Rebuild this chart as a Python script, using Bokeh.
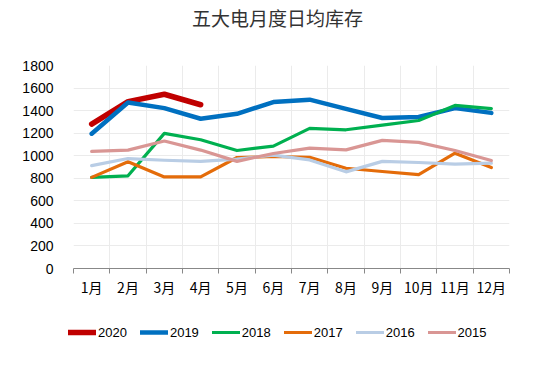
from bokeh.plotting import figure
from bokeh.models import FixedTicker, Legend, LegendItem, Label, Range1d
from bokeh.layouts import column
from bokeh.embed import file_html
from bokeh.resources import INLINE

title_text = "五大电月度日均库存"
months = ["1月", "2月", "3月", "4月", "5月", "6月", "7月", "8月", "9月", "10月", "11月", "12月"]
y_ticks = [0, 200, 400, 600, 800, 1000, 1200, 1400, 1600, 1800]

s2020 = [1280, 1480, 1545, 1452]
s2019 = [1195, 1472, 1422, 1328, 1372, 1476, 1497, 1415, 1334, 1343, 1422, 1380]
s2018 = [808, 822, 1198, 1142, 1046, 1085, 1242, 1230, 1272, 1312, 1446, 1418]
s2017 = [808, 946, 812, 812, 984, 993, 986, 889, 860, 833, 1022, 895]
s2016 = [912, 975, 960, 950, 970, 1005, 963, 857, 950, 940, 925, 934]
s2015 = [1038, 1050, 1130, 1050, 950, 1020, 1067, 1052, 1136, 1118, 1046, 957]

series = [
    ("2020", s2020, "#C00000", 5.5),
    ("2019", s2019, "#0070C0", 4.5),
    ("2018", s2018, "#00B050", 3.2),
    ("2017", s2017, "#E46C0A", 3.2),
    ("2016", s2016, "#B9CDE5", 3.2),
    ("2015", s2015, "#D99694", 3.2),
]

def strip(h):
    f = figure(width=540, height=h, output_backend="svg", toolbar_location=None,
               x_range=Range1d(0, 1), y_range=Range1d(0, 1),
               x_axis_location=None, y_axis_location=None, min_border=0)
    f.outline_line_color = None
    f.grid.visible = False
    return f

pt = strip(40)
pl = strip(45)

has_fa = "frame_align" in pt.properties()
if has_fa:
    pt.frame_align = False
    pl.frame_align = False
    title_x, legend_x = 277, 68
else:
    title_x, legend_x = 204, 0

# ---- title strip ----
pt.add_layout(Label(x=title_x, y=23, x_units="screen", y_units="screen", text=title_text,
                    text_align="center", text_baseline="middle",
                    text_font="Noto Sans CJK SC", text_font_size="19px",
                    text_color="#333333"))

# ---- main chart ----
p = figure(width=540, height=263, output_backend="svg", toolbar_location=None,
           x_range=(0.5, 12.5), y_range=(0, 1800))
p.min_border_left = 73
p.min_border_right = 31
p.min_border_top = 25
p.min_border_bottom = 35
p.outline_line_color = None

for name, vals, color, w in series:
    xs = list(range(1, len(vals) + 1))
    p.line(xs, vals, line_color=color, line_width=w, line_cap="round", line_join="round")

bounds = [i + 0.5 for i in range(0, 13)]
xa = p.xaxis[0]
xa.ticker = FixedTicker(ticks=list(range(1, 13)), minor_ticks=bounds)
xa.major_label_overrides = {i + 1: m for i, m in enumerate(months)}
xa.major_tick_line_color = None
xa.minor_tick_out = 5
xa.minor_tick_in = 0
xa.minor_tick_line_color = "#888888"
xa.axis_line_color = "#888888"
xa.major_label_text_font = "Noto Sans CJK SC"
xa.major_label_text_font_size = "14px"
xa.major_label_text_color = "#000000"
xa.major_label_standoff = 2

ya = p.yaxis[0]
ya.ticker = FixedTicker(ticks=y_ticks)
ya.axis_line_color = None
ya.major_tick_line_color = None
ya.minor_tick_line_color = None
ya.major_label_text_font = "Liberation Sans"
ya.major_label_text_font_size = "14px"
ya.major_label_text_color = "#000000"
ya.major_label_standoff = 14

p.xgrid[0].ticker = FixedTicker(ticks=bounds)
p.xgrid[0].grid_line_color = "#EBEBEB"
p.ygrid[0].grid_line_color = "#EBEBEB"

# ---- legend strip (series drawn off-range, only their legend glyphs show) ----
pl.x_range = Range1d(100, 101)
items = []
for name, vals, color, w in series:
    xs = list(range(1, len(vals) + 1))
    r = pl.line(xs, vals, line_color=color, line_width=w, line_cap="round")
    items.append(LegendItem(label=name, renderers=[r]))
legend = Legend(items=items, orientation="horizontal", location=(legend_x, 6))
legend.label_text_font = "Liberation Sans"
legend.label_text_font_size = "13px"
legend.label_text_color = "#000000"
legend.glyph_width = 28
legend.label_standoff = 2
legend.spacing = 13
legend.border_line_color = None
legend.background_fill_alpha = 0
legend.padding = 4
legend.margin = 0
pl.add_layout(legend)

layout = column(pt, p, pl, spacing=0)
open("out.html", "w").write(file_html(layout, INLINE))
